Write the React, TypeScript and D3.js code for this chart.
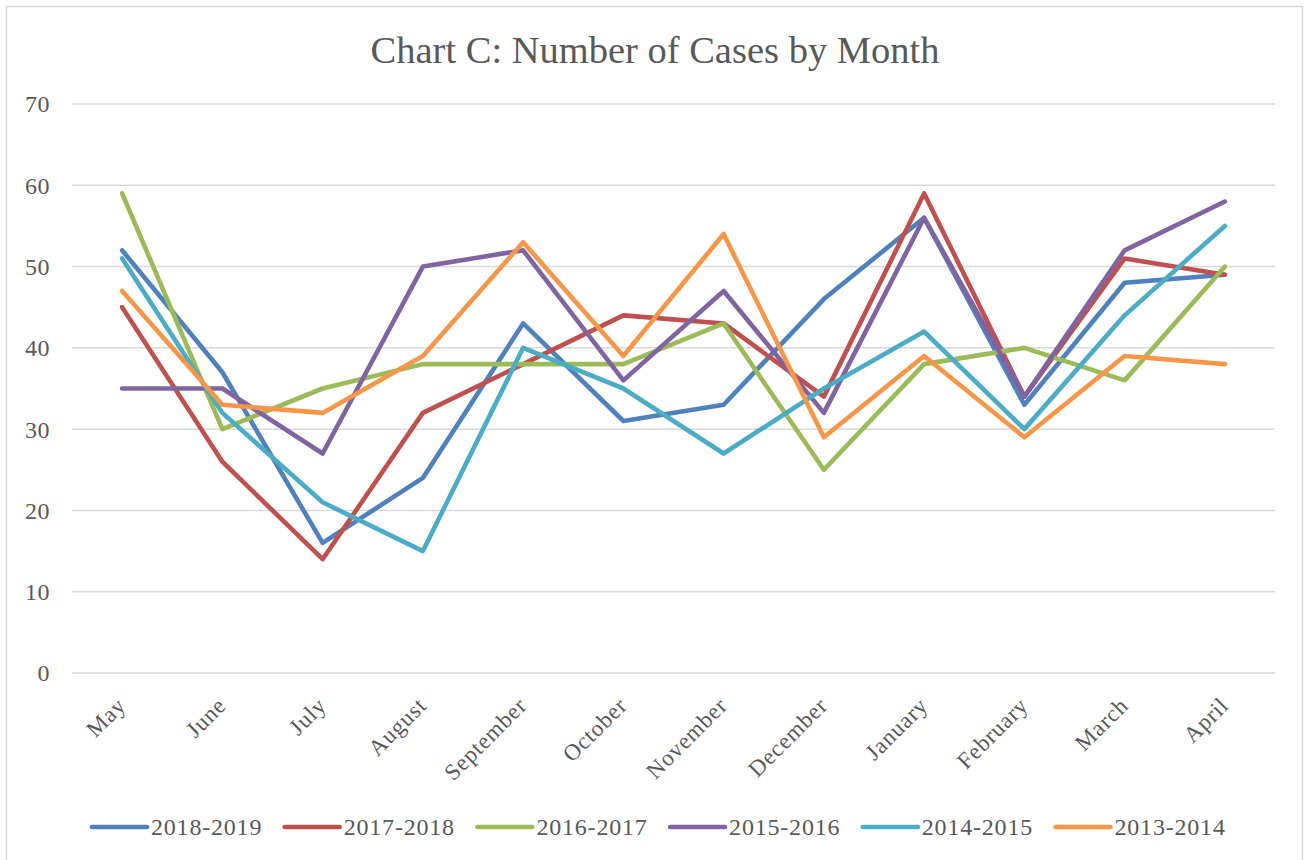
import React from "react";
import * as d3 from "d3";

const months = ["May", "June", "July", "August", "September", "October", "November", "December", "January", "February", "March", "April"];
const seriesNames = ["2018-2019", "2017-2018", "2016-2017", "2015-2016", "2014-2015", "2013-2014"];
const s2018 = [52, 37, 16, 24, 43, 31, 33, 46, 56, 33, 48, 49];
const s2017 = [45, 26, 14, 32, 38, 44, 43, 34, 59, 34, 51, 49];
const s2016 = [59, 30, 35, 38, 38, 38, 43, 25, 38, 40, 36, 50];
const s2015 = [35, 35, 27, 50, 52, 36, 47, 32, 56, 34, 52, 58];
const s2014 = [51, 32, 21, 15, 40, 35, 27, 35, 42, 30, 44, 55];
const s2013 = [47, 33, 32, 39, 53, 39, 54, 29, 39, 29, 39, 38];
const yTicks = [0, 10, 20, 30, 40, 50, 60, 70];
const colors = ["#4F81BD", "#C0504D", "#9BBB59", "#8064A2", "#4BACC6", "#F79646"];

const W = 1309, H = 860;
const FONT = "'Liberation Serif', 'DejaVu Serif', serif";

export default function App() {
  const all = [s2018, s2017, s2016, s2015, s2014, s2013];
  const x = d3.scalePoint<string>().domain(months).range([72, 1275]).padding(0.5);
  const y = d3.scaleLinear().domain([0, 70]).range([673, 104]);
  const line = d3.line<number>().x((_, i) => x(months[i])!).y((d) => y(d));
  const legendStart = 92, legendStep = 192.7;
  return (
    <svg width={W} height={H} style={{ position: "absolute", left: 0, top: 0 }} fontFamily={FONT}>
      <rect x={0} y={0} width={W} height={H} fill="#fff" />
      <rect x={6.5} y={6.5} width={1296} height={900} fill="#fff" stroke="#d9d9d9" strokeWidth={1.5} />
      <text x={655} y={63} textAnchor="middle" fontSize={38.5} fill="#595959">Chart C: Number of Cases by Month</text>
      {yTicks.map((t) => (
        <g key={t}>
          <line x1={72} x2={1275} y1={y(t)} y2={y(t)} stroke="#d9d9d9" strokeWidth={1.5} />
          <text x={50} y={y(t)} dy="0.35em" textAnchor="end" fontSize={24} letterSpacing={0.5} fill="#595959">{t}</text>
        </g>
      ))}
      {months.map((m) => (
        <text key={m} transform={`translate(${x(m)! + 5},${707}) rotate(-45)`} textAnchor="end" fontSize={23} letterSpacing={0.8} fill="#595959">{m}</text>
      ))}
      {all.map((s, i) => (
        <path key={i} d={line(s) || ""} fill="none" stroke={colors[i]} strokeWidth={4.6} strokeLinecap="round" strokeLinejoin="round" />
      ))}
      {seriesNames.map((n, i) => (
        <g key={n} transform={`translate(${legendStart + i * legendStep},827)`}>
          <line x1={0} x2={55} y1={0} y2={0} stroke={colors[i]} strokeWidth={4.6} strokeLinecap="round" />
          <text x={59} y={0} dy="0.35em" fontSize={24} letterSpacing={0.8} fill="#595959">{n}</text>
        </g>
      ))}
    </svg>
  );
}
